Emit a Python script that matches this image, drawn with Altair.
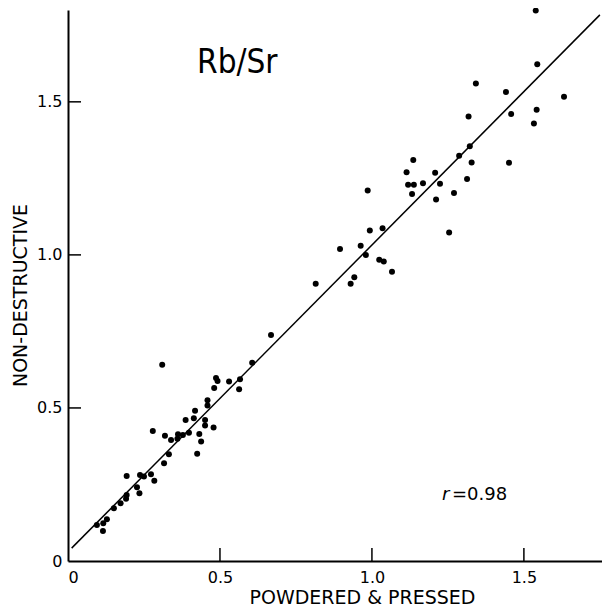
import altair as alt
import pandas as pd

# Scatter values (powdered & pressed vs non-destructive Rb/Sr)
x_vals = [0.095, 0.116, 0.128, 0.115, 0.151, 0.173, 0.191, 0.193, 0.193, 0.227,
          0.235, 0.237, 0.250, 0.273, 0.284, 0.279, 0.316, 0.332, 0.319, 0.339,
          0.360, 0.362, 0.378, 0.398, 0.387, 0.425, 0.432, 0.438, 0.451, 0.451,
          0.479, 0.414, 0.418, 0.459, 0.459, 0.481, 0.487, 0.492, 0.530, 0.566,
          0.563, 0.606, 0.310, 0.668, 0.815, 0.895, 0.930, 0.942, 0.963, 0.980,
          0.993, 1.035, 0.986, 1.024, 1.039, 1.066, 1.254, 1.114, 1.136, 1.119,
          1.138, 1.132, 1.168, 1.208, 1.224, 1.211, 1.270, 1.287, 1.328, 1.313,
          1.322, 1.318, 1.342, 1.441, 1.458, 1.542, 1.533, 1.451, 1.544, 1.539,
          1.632]
y_vals = [0.118, 0.123, 0.136, 0.098, 0.172, 0.189, 0.203, 0.216, 0.278, 0.241,
          0.221, 0.281, 0.276, 0.283, 0.262, 0.425, 0.319, 0.349, 0.409, 0.395,
          0.399, 0.414, 0.412, 0.419, 0.461, 0.350, 0.415, 0.390, 0.461, 0.443,
          0.436, 0.466, 0.491, 0.525, 0.508, 0.565, 0.598, 0.588, 0.586, 0.594,
          0.561, 0.648, 0.641, 0.738, 0.906, 1.019, 0.906, 0.927, 1.030, 1.000,
          1.080, 1.087, 1.210, 0.984, 0.978, 0.945, 1.073, 1.270, 1.310, 1.229,
          1.229, 1.199, 1.234, 1.268, 1.232, 1.181, 1.202, 1.324, 1.302, 1.248,
          1.355, 1.452, 1.560, 1.532, 1.460, 1.474, 1.429, 1.301, 1.623, 1.798,
          1.517]

# Fitted line end points
line_x = [0.012, 1.75]
line_y = [0.042, 1.784]

tick_values = [0.5, 1.0, 1.5]
axis_values = [0, 0.5, 1.0, 1.5]

points = pd.DataFrame({"x": x_vals, "y": y_vals})
line_df = pd.DataFrame({"x": line_x, "y": line_y})
ticks_df = pd.DataFrame({"t": tick_values})
one = pd.DataFrame({"a": [0]})

xs = alt.Scale(domain=[0, 1.757], nice=False, zero=False)
ys = alt.Scale(domain=[0, 1.8], nice=False, zero=False)

label_expr = "datum.value == 0 ? '0' : format(datum.value, '.1f')"

pts = alt.Chart(points).mark_circle(size=36, color="black", opacity=1).encode(
    x=alt.X("x:Q", scale=xs, axis=alt.Axis(
        values=axis_values, title="POWDERED & PRESSED", ticks=False,
        labelExpr=label_expr, labelPadding=8,
        titleX=294, titleY=42, titleBaseline="alphabetic", titleAlign="center")),
    y=alt.Y("y:Q", scale=ys, axis=alt.Axis(
        values=axis_values, title="NON-DESTRUCTIVE", ticks=False,
        labelExpr=label_expr, labelPadding=6,
        titleX=-42, titleY=285, titleBaseline="alphabetic", titleAlign="center")),
)

fit = alt.Chart(line_df).mark_line(color="black", strokeWidth=1.5).encode(
    x=alt.X("x:Q", scale=xs), y=alt.Y("y:Q", scale=ys))

xticks = alt.Chart(ticks_df).mark_rule(color="black", strokeWidth=1.5).encode(
    x=alt.X("t:Q", scale=xs), y=alt.value(551), y2=alt.value(538))
yticks = alt.Chart(ticks_df).mark_rule(color="black", strokeWidth=1.5).encode(
    y=alt.Y("t:Q", scale=ys), x=alt.value(0), x2=alt.value(13))

title_txt = alt.Chart(one).mark_text(
    text="Rb/Sr", font="DejaVu Sans Condensed, Roboto, sans-serif", fontSize=33,
    align="left", baseline="alphabetic", color="black").encode(
    x=alt.value(129), y=alt.value(63))
r_txt = alt.Chart(one).mark_text(
    text="r", font="DejaVu Sans", fontSize=18, fontStyle="italic", align="left",
    baseline="alphabetic", color="black").encode(x=alt.value(374), y=alt.value(490))
val_txt = alt.Chart(one).mark_text(
    text="=0.98", font="DejaVu Sans", fontSize=18, align="left",
    baseline="alphabetic", color="black").encode(x=alt.value(384), y=alt.value(490))

chart = alt.layer(fit, xticks, yticks, pts, title_txt, r_txt, val_txt).properties(
    width=534, height=551,
    autosize=alt.AutoSizeParams(type="none"),
    padding={"left": 60, "top": 2, "right": 0, "bottom": 45},
).configure_view(stroke=None).configure_axis(
    grid=False, domainColor="black", domainWidth=2,
    labelFont="DejaVu Sans", labelFontSize=16, labelColor="black",
    titleFont="DejaVu Sans", titleFontSize=19, titleFontWeight="normal", titleColor="black",
)

chart.save("out.html", embed_options={"renderer": "svg", "actions": False})
